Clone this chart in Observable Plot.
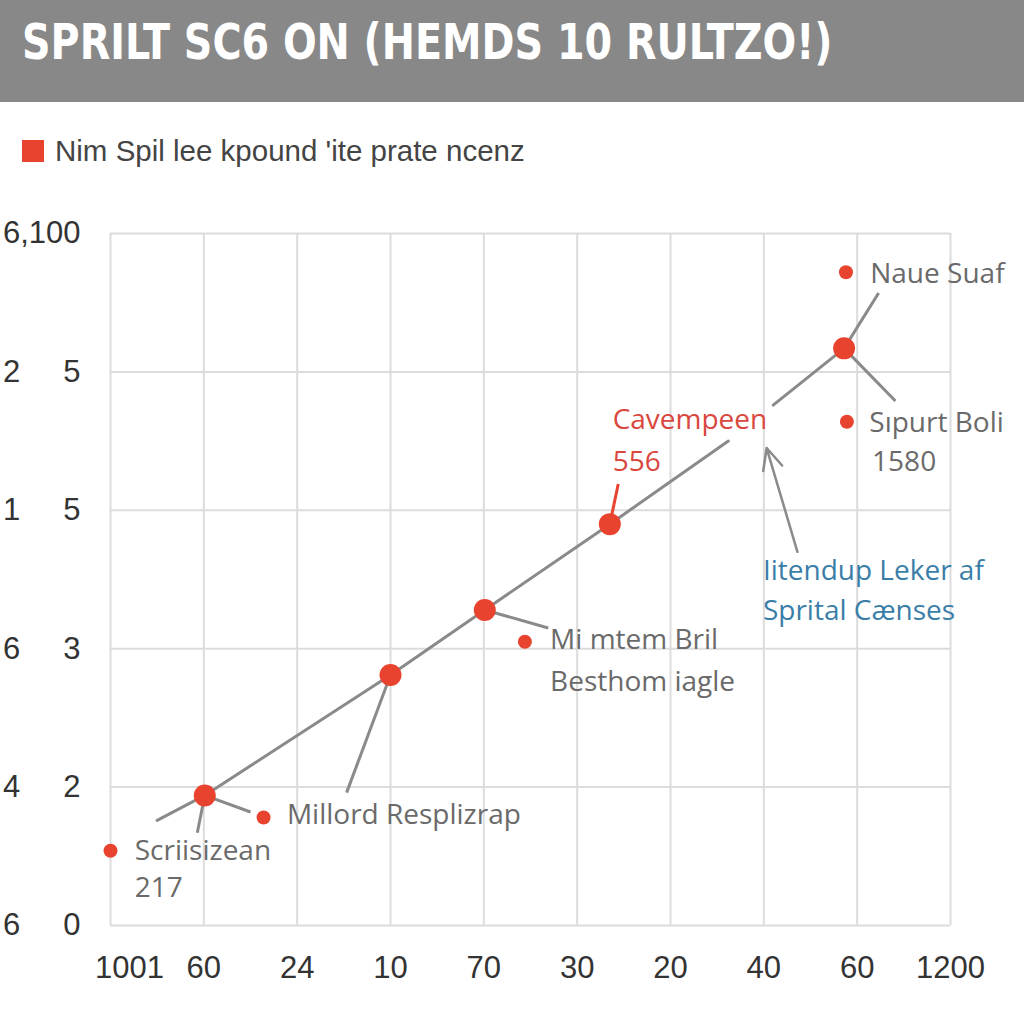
<!DOCTYPE html>
<html><head><meta charset="utf-8">
<script src="https://cdn.jsdelivr.net/npm/d3@7"></script>
<script src="https://cdn.jsdelivr.net/npm/@observablehq/plot@0.6"></script>
<style>
body{margin:0;background:#fff;width:1024px;height:1024px;overflow:hidden;}
#title{position:relative;height:102px;background:#888888;}
#title span{position:absolute;left:22px;top:18px;font:bold 49px "DejaVu Sans Condensed","DejaVu Sans",sans-serif;color:#fff;white-space:nowrap;line-height:1;transform:scaleX(0.9);transform-origin:0 0;}
#legend{position:relative;height:93px;}
#legend .sw{position:absolute;left:22px;top:38px;width:22px;height:22px;background:#e8432f;}
#legend .tx{position:absolute;left:55px;top:31px;font:29.5px "Liberation Sans",Arial,sans-serif;color:#444;line-height:1.2;white-space:nowrap;}
#chart svg{display:block;}
</style></head><body>
<div id="title"><span>SPRILT SC6 ON (HEMDS 10 RULTZO!)</span></div>
<div id="legend"><div class="sw"></div><div class="tx">Nim Spil lee kpound 'ite prate ncenz</div></div>
<div id="chart"></div>
<script>
// tick labels
const xTickLabels = ["1001","60","24","10","70","30","20","40","60","1200"];
const yTickLabels = ["6\u00a0\u00a0\u00a0\u00a0\u00a00","4\u00a0\u00a0\u00a0\u00a0\u00a02","6\u00a0\u00a0\u00a0\u00a0\u00a03","1\u00a0\u00a0\u00a0\u00a0\u00a05","2\u00a0\u00a0\u00a0\u00a0\u00a05","6,100"];

// main trend line (two segments)
const mainX   = [0.50, 1.01, 3.00, 4.01, 5.35, 6.62, 7.10, 7.86];
const mainY   = [0.76, 0.94, 1.81, 2.28, 2.90, 3.50, 3.76, 4.17];
const mainSeg = ["a","a","a","a","a","a","b","b"];

// big markers
const bigX = [1.01, 3.00, 4.01, 5.35, 7.86];
const bigY = [0.94, 1.81, 2.28, 2.90, 4.17];

// small markers
const smallX = [0.00, 1.64, 4.44, 7.88, 7.89];
const smallY = [0.54, 0.78, 2.05, 4.72, 3.64];

// leader lines
const leadX1 = [1.01, 1.01, 3.00, 4.01, 5.35, 7.86, 7.86];
const leadY1 = [0.94, 0.94, 1.81, 2.28, 2.90, 4.17, 4.17];
const leadX2 = [1.50, 0.93, 2.53, 4.69, 5.44, 8.23, 8.41];
const leadY2 = [0.82, 0.67, 0.96, 2.15, 3.19, 4.57, 3.79];
const leadKind = ["grey","grey","grey","grey","red","grey","grey"];

// arrow
const arrowFrom = [7.36, 2.70];
const arrowTo   = [7.03, 3.45];

// annotation labels
const labelText = ["Naue Suaf","Cavempeen","556","Sıpurt Boli","1580","Iitendup Leker af","Sprital Cænses","Mi mtem Bril","Besthom iagle","Millord Resplizrap","Scriisizean","217"];
const labelX    = [8.14, 5.38, 5.38, 8.13, 8.16, 6.99, 6.99, 4.71, 4.71, 1.89, 0.26, 0.26];
const labelY    = [4.71, 3.65, 3.35, 3.63, 3.35, 2.56, 2.27, 2.06, 1.76, 0.80, 0.54, 0.27];
const labelKind = ["grey","red","red","grey","grey","blue","blue","grey","grey","grey","grey","grey"];

const RED = "#e8432f", GREY = "#8a8a8a";
const textColor = {grey:"#6a6a6a", red:"#d9473f", blue:"#3a7ea8"};

const lineData = mainX.map((x,i)=>({x, y:mainY[i], seg:mainSeg[i]}));
const bigData = bigX.map((x,i)=>({x, y:bigY[i]}));
const smallData = smallX.map((x,i)=>({x, y:smallY[i]}));
const leadData = leadX1.map((x,i)=>({x1:x, y1:leadY1[i], x2:leadX2[i], y2:leadY2[i], kind:leadKind[i]}));
const labelData = labelText.map((t,i)=>({text:t, x:labelX[i], y:labelY[i], kind:labelKind[i]}));

const xt = d3.range(xTickLabels.length);
const yt = d3.range(yTickLabels.length);

const chart = Plot.plot({
  width: 1024, height: 829,
  marginLeft: 110, marginRight: 74, marginTop: 38, marginBottom: 99,
  style: {fontFamily: "Liberation Sans, Arial, sans-serif", background: "#fff"},
  x: {domain: [0, 9], axis: null},
  y: {domain: [0, 5], axis: null},
  marks: [
    Plot.gridX(xt, {stroke: "#dcdcdc", strokeOpacity: 1, strokeWidth: 2}),
    Plot.gridY(yt, {stroke: "#dcdcdc", strokeOpacity: 1, strokeWidth: 2}),
    Plot.axisX(xt.slice(0,1), {tickFormat: i => xTickLabels[i], tickSize: 0, tickPadding: 30, fontSize: 31, fill: "#333", dx: 19}),
    Plot.axisX(xt.slice(1), {tickFormat: i => xTickLabels[i], tickSize: 0, tickPadding: 30, fontSize: 31, fill: "#333"}),
    Plot.axisY(yt, {tickFormat: i => yTickLabels[i], tickSize: 0, tickPadding: 30, fontSize: 31, fill: "#333"}),
    Plot.line(lineData, {x: "x", y: "y", z: "seg", stroke: GREY, strokeWidth: 3}),
    Plot.link(leadData, {filter: d => d.kind === "grey", x1: "x1", y1: "y1", x2: "x2", y2: "y2", stroke: GREY, strokeWidth: 3}),
    Plot.link(leadData, {filter: d => d.kind === "red", x1: "x1", y1: "y1", x2: "x2", y2: "y2", stroke: RED, strokeWidth: 3}),
    Plot.arrow([{}], {x1: () => arrowFrom[0], y1: () => arrowFrom[1], x2: () => arrowTo[0], y2: () => arrowTo[1], stroke: GREY, strokeWidth: 2.5, headLength: 14, headAngle: 50}),
    Plot.dot(bigData, {x: "x", y: "y", r: 11, fill: RED}),
    Plot.dot(smallData, {x: "x", y: "y", r: 7, fill: RED}),
    ...Object.keys(textColor).map(k => Plot.text(labelData, {filter: d => d.kind === k, x: "x", y: "y", text: "text", textAnchor: "start", fill: textColor[k], fontSize: 28, fontFamily: "Open Sans, Lato, sans-serif"}))
  ]
});
document.getElementById("chart").appendChild(chart);
</script>
</body></html>
